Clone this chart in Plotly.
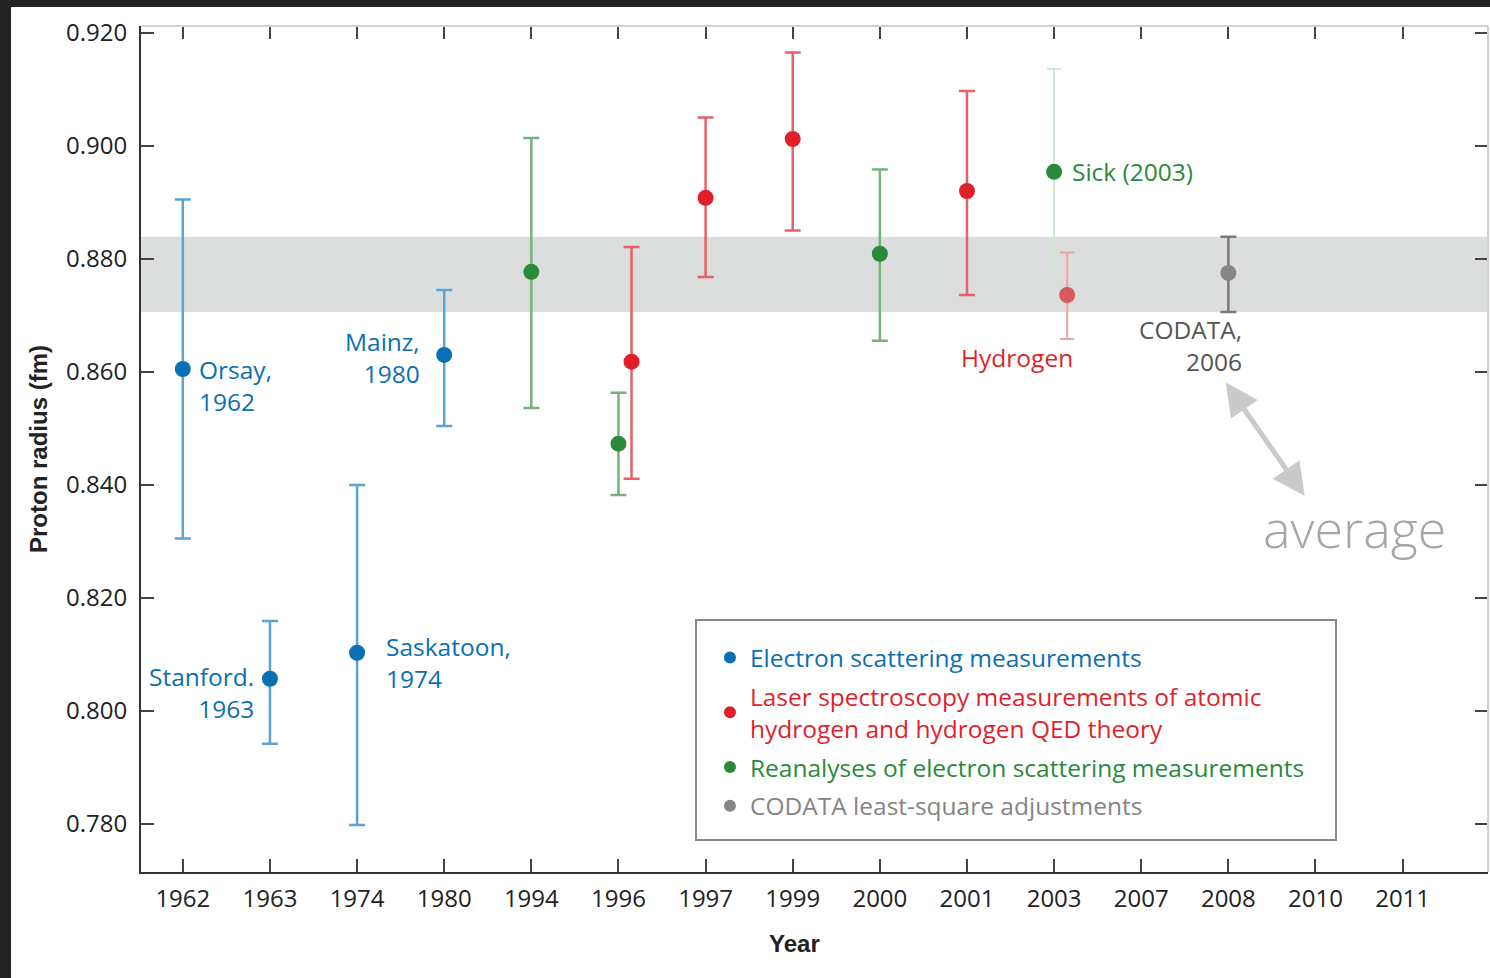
import plotly.graph_objects as go

# ---------------- data ----------------
YEARS = ["1962", "1963", "1974", "1980", "1994", "1996", "1997", "1999",
         "2000", "2001", "2003", "2007", "2008", "2010", "2011"]

elec_years = ["1962", "1963", "1974", "1980"]
elec_vals = [0.8605, 0.8057, 0.8103, 0.8630]
elec_plus = [0.0300, 0.0102, 0.0297, 0.0115]
elec_minus = [0.0300, 0.0115, 0.0305, 0.0126]

laser_years = ["1996", "1997", "1999", "2001", "2003"]
laser_vals = [0.8618, 0.8908, 0.9012, 0.8920, 0.8736]
laser_plus = [0.0203, 0.0142, 0.0153, 0.0177, 0.0075]
laser_minus = [0.0207, 0.0140, 0.0162, 0.0184, 0.0078]

rean_years = ["1994", "1996", "2000", "2003"]
rean_vals = [0.8777, 0.8473, 0.8809, 0.8954]
rean_plus = [0.0237, 0.0090, 0.0149, 0.0182]
rean_minus = [0.0241, 0.0091, 0.0154, 0.0177]

codata_years = ["2008"]
codata_vals = [0.8775]
codata_plus = [0.0064]
codata_minus = [0.0069]

y_ticks = [0.78, 0.80, 0.82, 0.84, 0.86, 0.88, 0.90, 0.92]

# ---------------- style ----------------
FONT = "Open Sans"
TITLE_FONT = "Liberation Sans"
TEXT_SIZE = 24.5
TICK_SIZE = 24
BLUE, BLUE_ERR = "#0b6fb3", "#5aa3d3"
RED, RED_ERR = "#e11f2b", "#e8606a"
RED_FADE, RED_FADE_ERR = "#d8585f", "#efa0a5"
GREEN, GREEN_ERR = "#2a8a3b", "#76b27c"
GREEN_FADE_ERR = "#d3e7d3"
GRAY, GRAY_ERR = "#858585", "#7a7a7a"
DODGE = 0.15
MARKER_SIZE = 16

series = [
    dict(key="elec", name="Electron scattering measurements", years=elec_years,
         vals=elec_vals, plus=elec_plus, minus=elec_minus, color=BLUE, err=BLUE_ERR,
         dodge=0.0, faded={}),
    dict(key="laser", name="Laser spectroscopy measurements of atomic<br>hydrogen and hydrogen QED theory",
         years=laser_years, vals=laser_vals, plus=laser_plus, minus=laser_minus,
         color=RED, err=RED_ERR, dodge=DODGE, faded={"2003": (RED_FADE, RED_FADE_ERR)}),
    dict(key="rean", name="Reanalyses of electron scattering measurements", years=rean_years,
         vals=rean_vals, plus=rean_plus, minus=rean_minus, color=GREEN, err=GREEN_ERR,
         dodge=0.0, faded={"2003": (GREEN, GREEN_FADE_ERR)}),
    dict(key="codata", name="CODATA least-square adjustments", years=codata_years,
         vals=codata_vals, plus=codata_plus, minus=codata_minus, color=GRAY, err=GRAY_ERR,
         dodge=0.0, faded={}),
]

shared = set(rean_years)


def xpos(s, year):
    return YEARS.index(year) + (s["dodge"] if year in shared else 0.0)


fig = go.Figure()

for s in series:
    normal = [i for i, y in enumerate(s["years"]) if y not in s["faded"]]
    fig.add_trace(go.Scatter(
        x=[xpos(s, s["years"][i]) for i in normal],
        y=[s["vals"][i] for i in normal],
        mode="markers",
        name=f"<span style='color:{s['color']}'>{s['name']}</span>",
        legendgroup=s["key"],
        marker=dict(color=s["color"], size=MARKER_SIZE),
        error_y=dict(type="data", symmetric=False,
                     array=[s["plus"][i] for i in normal],
                     arrayminus=[s["minus"][i] for i in normal],
                     color=s["err"], thickness=2.5, width=8),
        hoverinfo="x+y",
    ))
    for i, y in enumerate(s["years"]):
        if y in s["faded"]:
            mc, ec = s["faded"][y]
            fig.add_trace(go.Scatter(
                x=[xpos(s, y)], y=[s["vals"][i]], mode="markers",
                legendgroup=s["key"], showlegend=False,
                marker=dict(color=mc, size=MARKER_SIZE),
                error_y=dict(type="data", symmetric=False, array=[s["plus"][i]],
                             arrayminus=[s["minus"][i]], color=ec, thickness=2, width=7),
            ))

# dummy trace for mirrored tick axes
fig.add_trace(go.Scatter(x=[], y=[], xaxis="x2", yaxis="y2", showlegend=False, hoverinfo="skip"))

# CODATA average band
band_lo = codata_vals[0] - codata_minus[0]
band_hi = codata_vals[0] + codata_plus[0]

X_RANGE = [-0.48, 14.98]
Y_RANGE = [0.7715, 0.9212]

shapes = [
    dict(type="rect", xref="paper", yref="y", x0=0, x1=1, y0=band_lo, y1=band_hi,
         fillcolor="#dcdddd", line=dict(width=0), layer="below"),
    dict(type="line", xref="paper", yref="paper", x0=0, x1=1, y0=1, y1=1,
         line=dict(color="#d2d2d2", width=2)),
    dict(type="line", xref="paper", yref="paper", x0=1, x1=1, y0=0, y1=1,
         line=dict(color="#d2d2d2", width=2)),
    # legend box
    dict(type="rect", xref="paper", yref="paper", x0=0.41203, x1=0.88716, y0=0.03783, y1=0.29787,
         line=dict(color="#8a8a8a", width=2), fillcolor="rgba(0,0,0,0)"),
    # dark screenshot frame
    dict(type="rect", xref="paper", yref="paper", x0=-0.11, x1=1.01, y0=1.0225, y1=1.04,
         fillcolor="#222222", line=dict(width=0)),
    dict(type="rect", xref="paper", yref="paper", x0=-0.11, x1=-0.0965, y0=-0.13, y1=1.04,
         fillcolor="#222222", line=dict(width=0)),
]

# point labels
labels = [
    (series[0], "1962", "Orsay,<br>1962", "left", 14, -16, BLUE),
    (series[0], "1963", "Stanford.<br>1963", "right", -14, -14, BLUE),
    (series[0], "1974", "Saskatoon,<br>1974", "left", 27, -10, BLUE),
    (series[0], "1980", "Mainz,<br>1980", "right", -22, -3, BLUE),
    (series[2], "2003", "Sick (2003)", "left", 16, 0, GREEN),
    (series[1], "2003", "Hydrogen", "right", 8, -62, RED),
    (series[3], "2008", "CODATA,<br>2006", "right", 16, -73, "#555555"),
]
annotations = []
for s, yr, txt, anchor, xs, ys, col in labels:
    i = s["years"].index(yr)
    annotations.append(dict(
        x=xpos(s, yr), y=s["vals"][i], xref="x", yref="y", text=txt, showarrow=False,
        xanchor=anchor, yanchor="middle", align=anchor, xshift=xs, yshift=ys,
        font=dict(family=FONT, size=TEXT_SIZE, color=col)))

# average arrow + text
annotations.append(dict(x=11.97, y=0.8581, xref="x", yref="y", ax=80, ay=115,
                        axref="pixel", ayref="pixel", text="", showarrow=True,
                        arrowhead=2, arrowside="end+start", arrowsize=1.3, arrowwidth=5,
                        arrowcolor="#c9cbcb"))
annotations.append(dict(x=13.45, y=0.8324, xref="x", yref="y", text="average", showarrow=False,
                        xanchor="center", yanchor="middle",
                        font=dict(family="Open Sans", size=52, color="#a3a7a7", weight=300)))
# x-axis title (slightly left of centre, as in the original)
annotations.append(dict(x=0.4855, y=-0.0851, xref="paper", yref="paper", text="<b>Year</b>",
                        showarrow=False, xanchor="center", yanchor="middle",
                        font=dict(family=TITLE_FONT, size=24, color="#222222")))

axis_common = dict(showgrid=False, zeroline=False, ticks="inside", ticklen=13, tickwidth=2,
                   tickcolor="#444444")

fig.update_layout(
    width=1490, height=978,
    margin=dict(l=141, r=2, t=26, b=106),
    paper_bgcolor="white", plot_bgcolor="white",
    font=dict(family=FONT, size=TEXT_SIZE, color="#222222"),
    xaxis=dict(range=X_RANGE, tickmode="array", tickvals=list(range(len(YEARS))), ticktext=YEARS,
               showline=True, linecolor="#333333", linewidth=2, ticklabelstandoff=4,
               tickfont=dict(family=FONT, size=TICK_SIZE, color="#222222"),
               **axis_common),
    yaxis=dict(range=Y_RANGE, tickmode="array", tickvals=y_ticks, tickformat=".3f",
               showline=True, linecolor="#333333", linewidth=2, ticklabelstandoff=7,
               tickfont=dict(family=FONT, size=TICK_SIZE, color="#222222"),
               title=dict(text="<b>Proton radius (fm)</b>",
                          font=dict(family=TITLE_FONT, size=24, color="#222222"),
                          standoff=12),
               **axis_common),
    xaxis2=dict(range=X_RANGE, overlaying="x", side="top", anchor="y", tickmode="array",
                tickvals=list(range(len(YEARS))), showticklabels=False, showline=False,
                **axis_common),
    yaxis2=dict(range=Y_RANGE, overlaying="y", side="right", anchor="x", tickmode="array",
                tickvals=y_ticks, showticklabels=False, showline=False, **axis_common),
    legend=dict(x=0.4224, y=0.2801, xanchor="left", yanchor="top", bgcolor="rgba(0,0,0,0)",
                borderwidth=0, font=dict(family=FONT, size=TEXT_SIZE), tracegroupgap=4,
                itemsizing="constant"),
    shapes=shapes,
    annotations=annotations,
    showlegend=True,
)

fig.write_html("out.html")
